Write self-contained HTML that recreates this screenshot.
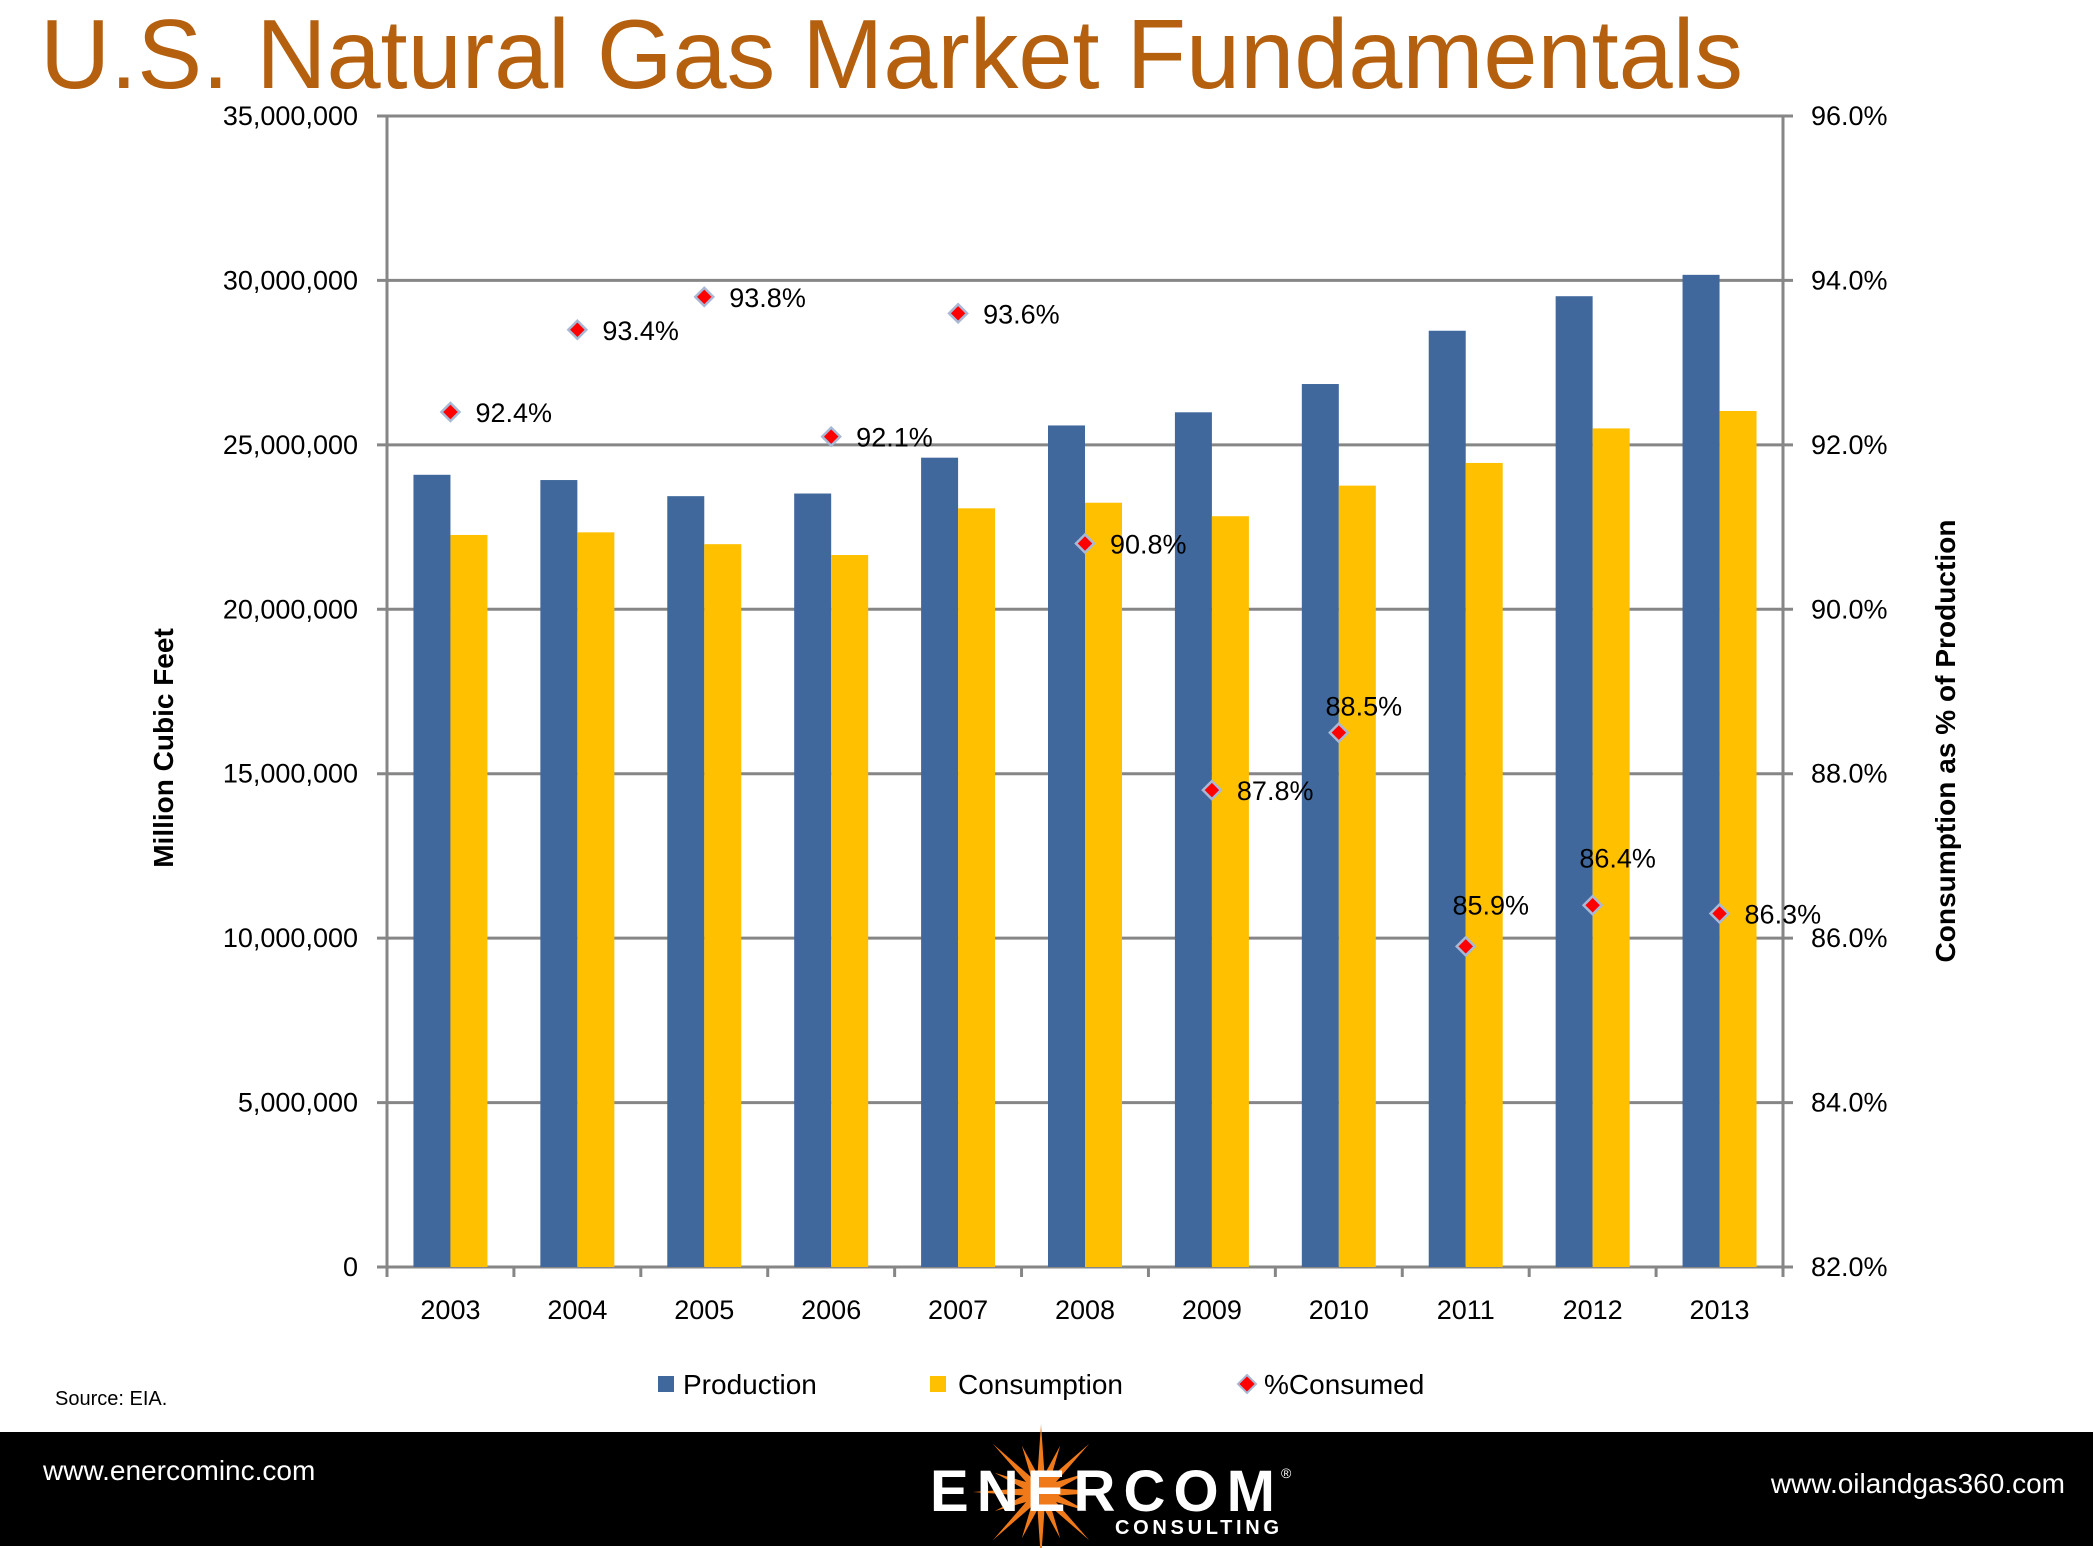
<!DOCTYPE html>
<html><head><meta charset="utf-8"><style>
body{margin:0;background:#fff;}
#wrap{position:relative;width:2093px;height:1548px;overflow:hidden;background:#fff;font-family:"Liberation Sans",sans-serif;}
</style></head><body>
<div id="wrap">
<svg id="chart" width="2093" height="1548" xmlns="http://www.w3.org/2000/svg">
<text x="40" y="88" font-size="98" fill="#B5600F" font-family="Liberation Sans, sans-serif" textLength="1703" lengthAdjust="spacingAndGlyphs">U.S. Natural Gas Market Fundamentals</text>
<g id="grid"></g>
<g id="bars"></g>
<g id="axes"></g>
<g id="points"></g>
<text transform="translate(173,748) rotate(-90)" text-anchor="middle" font-size="28" font-weight="bold" font-family="Liberation Sans, sans-serif">Million Cubic Feet</text>
<text transform="translate(1955,741) rotate(-90)" text-anchor="middle" font-size="28" font-weight="bold" font-family="Liberation Sans, sans-serif" textLength="443">Consumption as % of Production</text>
<g font-size="28" font-family="Liberation Sans, sans-serif">
<rect x="658" y="1376" width="16" height="16" fill="#41689C"/>
<text x="683" y="1394">Production</text>
<rect x="930" y="1376" width="16" height="16" fill="#FFC000"/>
<text x="958" y="1394">Consumption</text>
<path d="M1247 1375 L1256 1384 L1247 1393 L1238 1384 Z" fill="#FF0000" stroke="#A9B8D4" stroke-width="2"/>
<text x="1264" y="1394">%Consumed</text>
</g>
<text x="55" y="1405" font-size="20" font-family="Liberation Sans, sans-serif">Source: EIA.</text>
<rect x="0" y="1432" width="2093" height="114" fill="#000"/>
<text x="43" y="1480" font-size="28" fill="#fff" font-family="Liberation Sans, sans-serif">www.enercominc.com</text>
<text x="2065" y="1493" font-size="28" fill="#fff" text-anchor="end" font-family="Liberation Sans, sans-serif">www.oilandgas360.com</text>
<g>
<polygon id="star" fill="#F07A1A" points=""/>
<text x="930" y="1511" font-size="58" font-weight="bold" fill="#fff" font-family="Liberation Sans, sans-serif" textLength="345">ENERCOM</text>
<text x="1281" y="1478" font-size="14" fill="#fff" font-family="Liberation Sans, sans-serif">®</text>
<text x="1115" y="1534" font-size="20" font-weight="bold" fill="#fff" font-family="Liberation Sans, sans-serif" textLength="164">CONSULTING</text>
</g>
</svg>
</div>
<script>
const categories=["2003","2004","2005","2006","2007","2008","2009","2010","2011","2012","2013"];
const production=[24.09,23.93,23.44,23.52,24.61,25.59,25.99,26.85,28.47,29.52,30.17];
const consumption=[22.26,22.34,21.98,21.65,23.07,23.24,22.83,23.76,24.45,25.5,26.03];
const pctConsumed=[92.4,93.4,93.8,92.1,93.6,90.8,87.8,88.5,85.9,86.4,86.3];
const pctLabelAbove=[false,false,false,false,false,false,false,true,true,true,false];
const leftTicks=[0,5,10,15,20,25,30,35];
const leftTickLabels=["0","5,000,000","10,000,000","15,000,000","20,000,000","25,000,000","30,000,000","35,000,000"];
const rightTickLabels=["82.0%","84.0%","86.0%","88.0%","90.0%","92.0%","94.0%","96.0%"];

const NS="http://www.w3.org/2000/svg";
const X0=387,X1=1783,Y0=1267,Y1=116;
const yL=v=>Y0-(v/35)*(Y0-Y1);
const yR=v=>Y0-((v-82)/14)*(Y0-Y1);
const band=(X1-X0)/categories.length;
const xC=i=>X0+band*(i+0.5);
const aboveOff={"2010":17,"2011":32,"2012":38};
function mk(tag,attrs,parent){const e=document.createElementNS(NS,tag);for(const k in attrs)e.setAttribute(k,attrs[k]);parent.appendChild(e);return e;}
const grid=document.getElementById('grid'),axes=document.getElementById('axes'),bars=document.getElementById('bars'),pts=document.getElementById('points');
leftTicks.forEach((t,i)=>{
  const y=yL(t);
  const l=mk('line',{x1:X0-10,x2:X1+10,y1:y,y2:y,stroke:'#868686','stroke-width':3},grid);
  
  
  const a=mk('text',{x:358,y:y+9,'text-anchor':'end','font-size':27,'font-family':'Liberation Sans, sans-serif'},axes);
  a.textContent=leftTickLabels[i];
  
  
  const b=mk('text',{x:1811,y:y+9,'font-size':27,'font-family':'Liberation Sans, sans-serif'},axes);
  b.textContent=rightTickLabels[i];
  
  
});
const la=mk('line',{x1:X0,x2:X0,y1:Y1,y2:Y0,stroke:'#868686','stroke-width':3},axes);


const ra=mk('line',{x1:X1,x2:X1,y1:Y1,y2:Y0,stroke:'#868686','stroke-width':3},axes);


for(let i=0;i<=categories.length;i++){
  const x=X0+band*i;
  const t=mk('line',{x1:x,x2:x,y1:Y0,y2:Y0+10,stroke:'#868686','stroke-width':3},axes);
  
  
}
const bw=37;
categories.forEach((c,i)=>{
  const cx=xC(i);
  const p=mk('rect',{x:cx-bw,y:yL(production[i]),width:bw,height:Y0-yL(production[i]),fill:'#41689C'},bars);
  
  
  const q=mk('rect',{x:cx,y:yL(consumption[i]),width:bw,height:Y0-yL(consumption[i]),fill:'#FFC000'},bars);
  
  
  const t=mk('text',{x:cx,y:1319,'text-anchor':'middle','font-size':27,'font-family':'Liberation Sans, sans-serif'},axes);
  t.textContent=c;
  
  
  const y=yR(pctConsumed[i]);
  const d=mk('path',{d:`M${cx} ${y-9} L${cx+9} ${y} L${cx} ${y+9} L${cx-9} ${y} Z`,fill:'#FF0000',stroke:'#A9B8D4','stroke-width':2.5},pts);
  
  
  const off=aboveOff[c]||17;
  const lab=pctLabelAbove[i]?mk('text',{x:cx+25,y:y-off,'text-anchor':'middle','font-size':27,'font-family':'Liberation Sans, sans-serif'},pts):mk('text',{x:cx+25,y:y+10,'font-size':27,'font-family':'Liberation Sans, sans-serif'},pts);
  lab.textContent=pctConsumed[i].toFixed(1)+'%';
  
  
});
const star=document.getElementById('star');let s='';const sx=1041,sy=1492;
for(let k=0;k<32;k++){const r=k%2?18:(k%4?50:68);const a=Math.PI*k/16;s+=(sx+r*Math.cos(a))+','+(sy+r*Math.sin(a))+' ';}
star.setAttribute('points',s);
</script>
</body></html>
